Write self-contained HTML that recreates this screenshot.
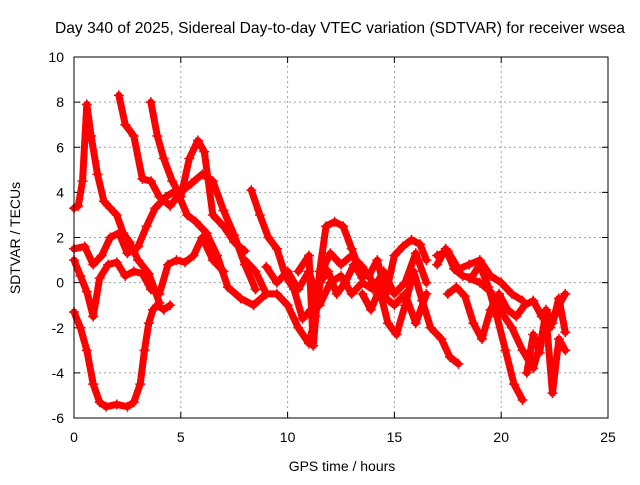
<!DOCTYPE html>
<html><head><meta charset="utf-8"><style>
body{margin:0;background:#fff;}
svg text{font-family:"Liberation Sans",sans-serif;font-size:14px;fill:#000;}
</style></head><body>
<svg id="chart" width="640" height="480">
<text x="340" y="33" text-anchor="middle" style="font-size:15.6px">Day 340 of 2025, Sidereal Day-to-day VTEC variation (SDTVAR) for receiver wsea</text>
<g id="grid"></g>
<g id="ticks"></g>
<g id="series"></g>
<rect x="74" y="57" width="534" height="361" fill="none" stroke="#000"/>
<text x="342" y="471" text-anchor="middle">GPS time / hours</text>
<text transform="translate(20,238) rotate(-90)" text-anchor="middle">SDTVAR / TECUs</text>
</svg>
<script>
const xTicks=[0,5,10,15,20,25];
const yTicks=[-6,-4,-2,0,2,4,6,8,10];
const trackA_t=[0,0.3,0.6,0.9,1.2,1.5,2,2.5,2.8,3.1,3.3,3.5,3.7,3.9,4.2,4.5];
const trackA_v=[-1.3,-2,-3,-4.5,-5.3,-5.5,-5.4,-5.5,-5.3,-4.5,-3,-1.8,-1.2,-1,-1.2,-1];
const trackB_t=[0,0.2,0.4,0.6,0.8,1.1,1.4,1.7,2,2.3,2.6,3,3.5,4];
const trackB_v=[3.3,3.4,4.5,7.9,6.5,4.8,3.6,3.3,3,2.2,1.8,1,0.4,-0.9];
const trackC_t=[2.1,2.4,2.8,3.2,3.6,4,4.5,5,5.5,6,6.5,7,7.5,8,8.5];
const trackC_v=[8.3,7,6.5,4.6,4.5,3.8,3.4,4,4.4,4.8,4.5,3.2,2.1,0.8,-0.3];
const trackD_t=[3.6,3.9,4.2,4.6,5,5.4,5.8,6.1,6.5,7,7.5,8];
const trackD_v=[8,6.5,5.5,4.5,3.8,5.5,6.3,5.8,3,2.5,1.8,1.4];
const trackE_t=[0,0.5,0.9,1.3,1.7,2.1,2.5,3,3.4,3.8,4.3,4.8,5.3,5.7,6.2,6.7,7.2,7.8,8.4,9];
const trackE_v=[1.5,1.6,0.8,1.2,2,2.2,1.3,1.6,2.5,3.3,3.8,4.1,3,2.7,2.2,1.2,-0.2,-0.7,-1,-0.5];
const trackF_t=[0,0.3,0.6,0.9,1.2,1.6,2,2.4,2.8,3.2,3.6,4,4.4,4.8,5.2,5.6,6,6.5,7];
const trackF_v=[1,0.3,-0.4,-1.5,0.2,0.8,0.9,0.3,0.5,0.4,-0.3,-0.5,0.8,1,0.9,1.2,2,1,0.5];
const trackG_t=[8.3,8.7,9.1,9.5,9.9,10.3,10.7,11.1,11.5,11.9,12.3,12.7,13.1,13.5];
const trackG_v=[4.1,3,2,1.5,0.3,-0.3,-1.6,-1.2,0,0.5,-0.5,0,0.8,0.2];
const trackH_t=[10.5,11,11.2,11.5,11.8,12.2,12.6,13,13.4,13.8,14.2,14.6,15,15.4,15.8,16.2,16.5];
const trackH_v=[0.5,1.2,-2.8,0.5,2.5,2.7,2.5,1.5,0.5,0.3,1,-0.5,1.2,1.6,1.9,1.7,1];
const trackI_t=[13.5,13.9,14.3,14.7,15.1,15.5,15.9,16.3,16.7,17.2,17.6,18];
const trackI_v=[-0.5,-1.2,-0.3,-1.8,-2.3,-1,0.5,-0.8,-2,-2.5,-3.3,-3.6];
const trackJ_t=[17,17.4,17.8,18.2,18.6,19,19.4,19.8,20.2,20.6,21];
const trackJ_v=[0.8,1.5,0.6,0.3,0.2,0.8,-0.2,-1.5,-3,-4.5,-5.2];
const trackK_t=[17.5,17.9,18.3,18.7,19.1,19.5,19.9,20.3,20.7,21.1,21.5,21.9,22.3,22.7,23];
const trackK_v=[-0.5,-0.2,-0.6,-1.8,-2.5,-1.2,-0.5,-1.2,-1.5,-1,-0.8,-1.5,-2,-1,-0.5];
const trackL_t=[18.5,19,19.5,20,20.5,21,21.5,21.8,22.1,22.4,22.7,23];
const trackL_v=[0.2,0,-0.4,-1.3,-2,-3,-3.8,-2.8,-1.5,-4.9,-2.5,-3];
const trackM_t=[21.2,21.5,21.8,22.1,22.4,22.7,23];
const trackM_v=[-4,-2.3,-3.1,-1.2,-1.8,-0.7,-2.2];
const trackN_t=[9,9.5,10,10.5,11,11.5,12,12.5,13,13.5,14,14.5,15,15.5,16,16.5];
const trackN_v=[0.7,0,0.5,-0.3,0.5,-1,0,0.3,-0.5,0,-0.3,0.5,-0.5,0,1.3,0];
const trackO_t=[8,8.5,9,9.5,10,10.5,11,11.3,11.6,12,12.5,13,13.5,14,14.5,15,15.5,16,16.5];
const trackO_v=[1,0.5,-0.5,-0.5,-1,-2,-2.7,-1.5,0.5,1.3,0.8,1.2,0.7,0,-0.6,-1,-0.5,-1.8,-0.5];
const trackP_t=[17,17.5,18,18.5,19,19.5,20,20.5,21];
const trackP_v=[1.2,1.4,0.6,0.8,1,0.3,0,-0.5,-0.8];
const tracks=[[trackA_t,trackA_v],[trackB_t,trackB_v],[trackC_t,trackC_v],[trackD_t,trackD_v],[trackE_t,trackE_v],[trackF_t,trackF_v],[trackG_t,trackG_v],[trackH_t,trackH_v],[trackI_t,trackI_v],[trackJ_t,trackJ_v],[trackK_t,trackK_v],[trackL_t,trackL_v],[trackM_t,trackM_v],[trackN_t,trackN_v],[trackO_t,trackO_v],[trackP_t,trackP_v]];
const NS="http://www.w3.org/2000/svg";
const X0=74,X1=608,Y0=418,Y1=57;
function sx(t){return X0+(t-0)/(25-0)*(X1-X0);}
function sy(v){return Y0-(v+6)/16*(Y0-Y1);}
const grid=document.getElementById('grid'),ticks=document.getElementById('ticks'),ser=document.getElementById('series');
function mk(tag,attrs,parent){const e=document.createElementNS(NS,tag);for(const k in attrs)e.setAttribute(k,attrs[k]);parent.appendChild(e);return e;}
xTicks.forEach(t=>{
  const x=sx(t);
  if(t>0&&t<25){const g=mk('line',{x1:x,x2:x,y1:Y0,y2:Y1,stroke:'#a0a0a0','stroke-dasharray':'2,3'},grid);
  
  }
  mk('line',{x1:x,x2:x,y1:Y0,y2:Y0-6,stroke:'#000'},ticks);
  mk('line',{x1:x,x2:x,y1:Y1,y2:Y1+6,stroke:'#000'},ticks);
  const l=mk('text',{x:x,y:Y0+24,'text-anchor':'middle'},ticks);l.textContent=t;
  
  
});
yTicks.forEach(v=>{
  const y=sy(v);
  if(v>-6&&v<10){const g=mk('line',{x1:X0,x2:X1,y1:y,y2:y,stroke:'#a0a0a0','stroke-dasharray':'2,3'},grid);
  
  }
  mk('line',{x1:X0,x2:X0+6,y1:y,y2:y,stroke:'#000'},ticks);
  mk('line',{x1:X1,x2:X1-6,y1:y,y2:y,stroke:'#000'},ticks);
  const l=mk('text',{x:X0-10,y:y+5,'text-anchor':'end'},ticks);l.textContent=v;
  
  
});
tracks.forEach(([ts,vs])=>{
  const pts=ts.map((t,i)=>sx(t)+','+sy(vs[i])).join(' ');
  const pl=mk('polyline',{points:pts,fill:'none',stroke:'#f00','stroke-width':7,'stroke-linejoin':'round','stroke-linecap':'round'},ser);
  
  
  ts.forEach((t,i)=>{
    const x=sx(t),y=sy(vs[i]);
    const p=mk('path',{d:`M${x-5},${y}H${x+5}M${x},${y-5}V${y+5}`,stroke:'#f00','stroke-width':1.5},ser);
    
    
  });
});
</script>
</body></html>
